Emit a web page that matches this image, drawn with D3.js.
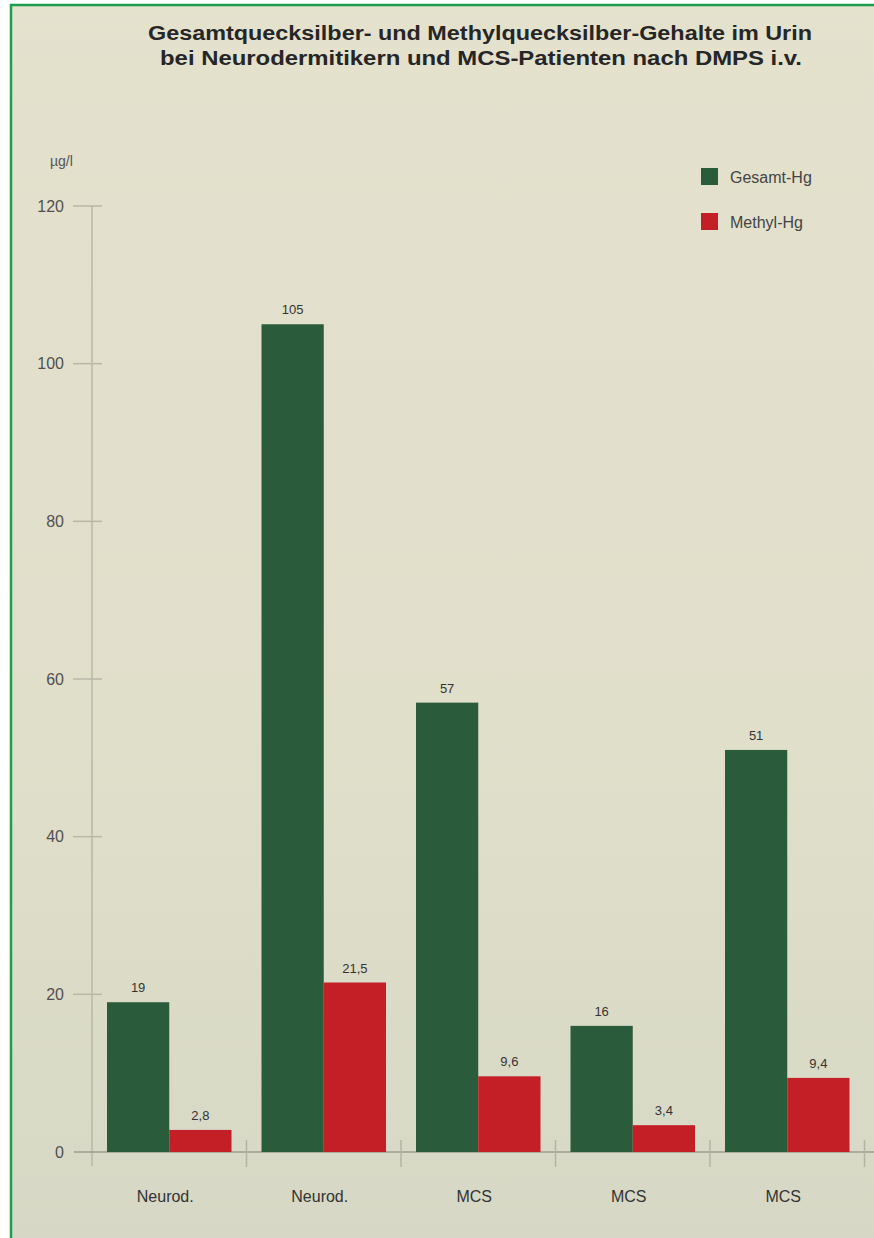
<!DOCTYPE html>
<meta charset="utf-8">
<head>
<script src="https://d3js.org/d3.v7.min.js"></script>
<style>
  body { margin: 0; background: #fff; font-family: "Liberation Sans", Arial, sans-serif; }
</style>
</head>
<body>
<div id="my_dataviz"></div>
<script>

// data
var categories = ["Neurod.", "Neurod.", "MCS", "MCS", "MCS"];
var gesamtHg = [19, 105, 57, 16, 51];
var methylHg = [2.8, 21.5, 9.6, 3.4, 9.4];
var gesamtLabels = ["19", "105", "57", "16", "51"];
var methylLabels = ["2,8", "21,5", "9,6", "3,4", "9,4"];
var yTicks = [0, 20, 40, 60, 80, 100, 120];
var seriesNames = ["Gesamt-Hg", "Methyl-Hg"];
var seriesColors = ["#2a5c3b", "#c41e26"];

var W = 874, H = 1238;

var svg = d3.select("#my_dataviz")
  .append("svg")
    .attr("width", W)
    .attr("height", H);

// background with a slight fade
var defs = svg.append("defs");
var grad = defs.append("linearGradient")
    .attr("id", "bg").attr("x1", 0).attr("y1", 0).attr("x2", 0).attr("y2", 1);
grad.append("stop").attr("offset", "0%").attr("stop-color", "#e4e1cd");
grad.append("stop").attr("offset", "60%").attr("stop-color", "#e0dfca");
grad.append("stop").attr("offset", "100%").attr("stop-color", "#d6d8c5");

svg.append("rect")
    .attr("x", 10).attr("y", 4)
    .attr("width", W - 10).attr("height", H - 4)
    .attr("fill", "url(#bg)");

// green frame, left and top only (the rest is cut off)
svg.append("line").attr("x1", 11).attr("x2", 11).attr("y1", 4).attr("y2", H)
    .attr("stroke", "#1d9e4e").attr("stroke-width", 2.5);
svg.append("line").attr("x1", 10).attr("x2", W).attr("y1", 5).attr("y2", 5)
    .attr("stroke", "#1d9e4e").attr("stroke-width", 2.5);

// title
svg.append("text")
    .attr("x", 480).attr("y", 40)
    .attr("text-anchor", "middle")
    .attr("textLength", 664).attr("lengthAdjust", "spacingAndGlyphs")
    .style("font-size", "20px").style("font-weight", "bold").style("fill", "#262626")
    .text("Gesamtquecksilber- und Methylquecksilber-Gehalte im Urin");
svg.append("text")
    .attr("x", 481).attr("y", 65)
    .attr("text-anchor", "middle")
    .attr("textLength", 642).attr("lengthAdjust", "spacingAndGlyphs")
    .style("font-size", "20px").style("font-weight", "bold").style("fill", "#262626")
    .text("bei Neurodermitikern und MCS-Patienten nach DMPS i.v.");

// scales
var x0 = 92, yZero = 1152;
var x = d3.scaleBand()
  .domain(d3.range(categories.length))
  .range([x0, x0 + 5 * 154.5])
  .paddingInner(0)
  .paddingOuter(0);
var inner = d3.scaleBand()
  .domain([0, 1])
  .range([15, 154.5 - 15]);
var y = d3.scaleLinear()
  .domain([0, 120])
  .range([yZero, 206]);

// y axis
var yAxis = svg.append("g")
    .attr("transform", "translate(" + x0 + ",0)")
    .call(d3.axisLeft(y).tickValues(yTicks).tickSize(0).tickPadding(28).tickFormat(d3.format("d")));
yAxis.select(".domain").remove();
yAxis.selectAll("text")
    .style("font-size", "16px").style("fill", "#505050")
    .style("font-family", "'Liberation Sans', Arial, sans-serif");

svg.append("line")
    .attr("x1", x0).attr("x2", x0)
    .attr("y1", y(120)).attr("y2", yZero + 14)
    .attr("stroke", "#b9b7a6").attr("stroke-width", 1.5);
svg.selectAll(".ytick")
  .data(yTicks.filter(function(d) { return d > 0; }))
  .enter()
  .append("line")
    .attr("x1", x0 - 19).attr("x2", x0 + 10)
    .attr("y1", function(d) { return y(d); })
    .attr("y2", function(d) { return y(d); })
    .attr("stroke", "#b9b7a6").attr("stroke-width", 1.5);

// unit label
svg.append("text")
    .attr("x", 50).attr("y", 166)
    .style("font-size", "14px").style("fill", "#555")
    .text("µg/l");

// baseline and group separators
svg.append("line")
    .attr("x1", 74).attr("x2", W)
    .attr("y1", yZero).attr("y2", yZero)
    .attr("stroke", "#9e9d90").attr("stroke-width", 1.5);
svg.selectAll(".sep")
  .data(d3.range(1, categories.length + 1))
  .enter()
  .append("line")
    .attr("x1", function(d) { return x0 + d * x.bandwidth(); })
    .attr("x2", function(d) { return x0 + d * x.bandwidth(); })
    .attr("y1", yZero - 12).attr("y2", yZero + 15)
    .attr("stroke", "#b5b3a3").attr("stroke-width", 1.5);

// bars
var series = [gesamtHg, methylHg];
var labels = [gesamtLabels, methylLabels];
series.forEach(function(vals, s) {
  svg.selectAll(".bar" + s)
    .data(vals)
    .enter()
    .append("rect")
      .attr("x", function(d, i) { return x(i) + inner(s); })
      .attr("y", function(d) { return y(d); })
      .attr("width", inner.bandwidth())
      .attr("height", function(d) { return yZero - y(d); })
      .attr("fill", seriesColors[s]);

  svg.selectAll(".lab" + s)
    .data(vals)
    .enter()
    .append("text")
      .attr("x", function(d, i) { return x(i) + inner(s) + inner.bandwidth() / 2; })
      .attr("y", function(d) { return y(d) - 10; })
      .attr("text-anchor", "middle")
      .style("font-size", "13px").style("fill", "#333")
      .text(function(d, i) { return labels[s][i]; });
});

// category labels
svg.selectAll(".cat")
  .data(categories)
  .enter()
  .append("text")
    .attr("x", function(d, i) { return x(i) + x.bandwidth() / 2 - 4; })
    .attr("y", 1202)
    .attr("text-anchor", "middle")
    .style("font-size", "16px").style("fill", "#333")
    .text(function(d) { return d; });

// legend
var legend = svg.selectAll(".legend")
  .data(seriesNames)
  .enter()
  .append("g")
    .attr("transform", function(d, i) { return "translate(701," + (168 + i * 45) + ")"; });
legend.append("rect")
    .attr("width", 17).attr("height", 17)
    .attr("fill", function(d, i) { return seriesColors[i]; });
legend.append("text")
    .attr("x", 29).attr("y", 15)
    .style("font-size", "16px").style("fill", "#444")
    .text(function(d) { return d; });

</script>
</body>
